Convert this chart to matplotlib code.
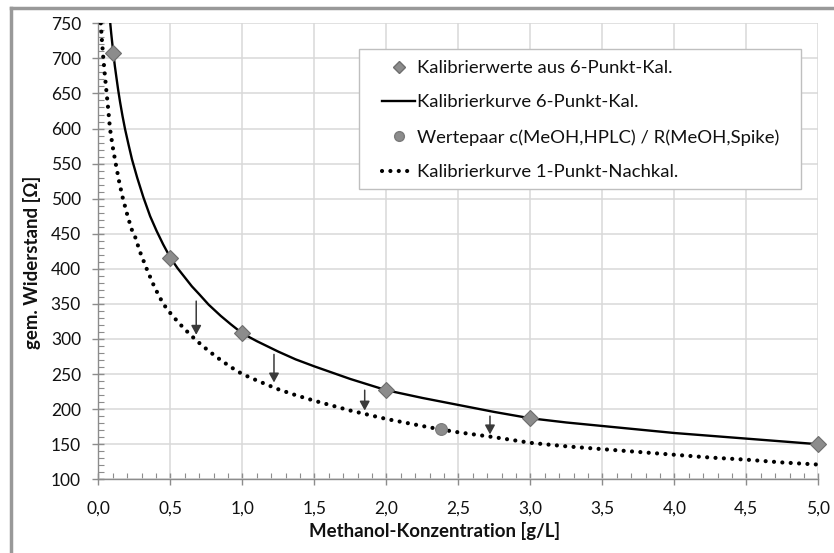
import matplotlib
matplotlib.use("Agg")
import matplotlib.pyplot as plt
from matplotlib.ticker import MultipleLocator, FuncFormatter
from matplotlib.lines import Line2D
from matplotlib.patches import Rectangle

plt.rcParams['font.family'] = ['Lato', 'DejaVu Sans']

# calibration points (6-point calibration)
cal_x = [0.1, 0.5, 1.0, 2.0, 3.0, 5.0]
cal_y = [708, 416, 308, 227, 187, 150]

# calibration curve 6-point
curve6_x = [0.083, 0.09, 0.104, 0.115, 0.125, 0.138, 0.151, 0.168, 0.186, 0.21, 0.234, 0.27,
            0.313, 0.36, 0.405, 0.45, 0.5, 0.55, 0.6, 0.65, 0.7, 0.766, 0.85, 0.92,
            1.0, 1.1, 1.25, 1.37, 1.5, 1.75, 2.0, 2.25, 2.5, 2.75, 3.0, 3.25,
            3.5, 3.75, 4.0, 4.25, 4.5, 4.75, 5.0]
curve6_y = [750, 735, 708, 689, 674, 655, 638, 618, 599, 577, 556, 530,
            502, 475, 454, 435, 416, 401, 388, 375, 364, 349, 333, 321,
            308, 297, 282, 271, 261, 243, 227, 216, 206, 196, 187, 181,
            176, 171, 166, 162, 158, 154, 150]

# value pair HPLC / spike
pair_x = [2.38]
pair_y = [171]

# calibration curve 1-point recalibration
curve1_x = [0.017, 0.025, 0.035, 0.046, 0.058, 0.07, 0.081, 0.1, 0.12, 0.146, 0.17, 0.2,
            0.23, 0.255, 0.29, 0.336, 0.39, 0.451, 0.5, 0.55, 0.6, 0.68, 0.766, 0.85,
            0.92, 1.0, 1.1, 1.24, 1.37, 1.5, 1.75, 2.0, 2.25, 2.38, 2.5, 2.75,
            3.0, 3.25, 3.5, 3.75, 4.0, 4.25, 4.5, 4.75, 5.0]
curve1_y = [750, 726, 700, 675, 650, 625, 600, 574, 551, 523, 501, 478,
            457, 446, 424, 400, 374, 350, 337, 325, 314, 298, 283, 270,
            260, 250, 241, 229, 220, 212, 198, 186, 176, 171, 167, 160,
            152, 147, 143, 139, 135, 131, 128, 124, 121]

# arrows (x, start, end)
arrow_x = [0.68, 1.22, 1.85, 2.72]
arrow_top = [354, 278, 227, 190]
arrow_tip = [306, 238, 198, 164]

fig = plt.figure(figsize=(8.34, 5.53), dpi=100)
ax = fig.add_axes([98.3/834, 1-479.3/553, 720/834, 456/553])

ax.set_xlim(0, 5)
ax.set_ylim(100, 750)

ax.xaxis.set_major_locator(MultipleLocator(0.5))
ax.xaxis.set_minor_locator(MultipleLocator(0.1))
ax.yaxis.set_major_locator(MultipleLocator(50))
ax.yaxis.set_minor_locator(MultipleLocator(10))
ax.xaxis.set_major_formatter(FuncFormatter(lambda v, p: f"{v:.1f}".replace('.', ',')))
ax.yaxis.set_major_formatter(FuncFormatter(lambda v, p: f"{int(round(v))}"))

ax.grid(True, which='major', color='#d9d9d9', linewidth=1.1, zorder=0)
ax.set_axisbelow(True)
for s in ['top', 'right']:
    ax.spines[s].set_visible(False)
for s in ['left', 'bottom']:
    ax.spines[s].set_color('#8c8c8c')
    ax.spines[s].set_linewidth(1.0)

ax.tick_params(which='major', direction='inout', length=8, width=1.0, color='#8c8c8c',
               labelsize=12.5, labelcolor='#111111')
ax.tick_params(axis='x', which='major', pad=11)
ax.tick_params(axis='y', which='major', pad=8.5)
ax.tick_params(which='minor', direction='in', length=4, width=0.8, color='#8c8c8c')

ax.plot(curve6_x, curve6_y, color='black', linewidth=1.7, zorder=3,
        solid_capstyle='round', solid_joinstyle='round')
ax.plot(curve1_x, curve1_y, color='black', linewidth=3.0,
        linestyle=(0, (0.01, 2.0)), dash_capstyle='round', zorder=3)
ax.plot(cal_x, cal_y, linestyle='none', marker='D', markersize=8,
        markerfacecolor='#8c8c8c', markeredgecolor='#6e6e6e', markeredgewidth=0.8,
        zorder=5, clip_on=False)
ax.plot(pair_x, pair_y, linestyle='none', marker='o', markersize=8.5,
        markerfacecolor='#8c8c8c', markeredgecolor='#7a7a7a', markeredgewidth=0.8,
        zorder=5)

for xa, yt, ye in zip(arrow_x, arrow_top, arrow_tip):
    ax.annotate('', xy=(xa, ye), xytext=(xa, yt),
                arrowprops=dict(arrowstyle='-|>,head_length=0.55,head_width=0.3',
                                color='#3a3a3a', linewidth=1.1, shrinkA=0, shrinkB=0),
                zorder=4)

ax.set_xlabel('Methanol-Konzentration [g/L]', fontsize=13.4, fontweight='bold', color='#111111')
ax.xaxis.set_label_coords(435/834, 1-531/553, transform=fig.transFigure)
ax.xaxis.label.set_verticalalignment('center')
ax.set_ylabel('gem. Widerstand [Ω]', fontsize=13.4, fontweight='bold', color='#111111')
ax.yaxis.set_label_coords(32/834, 1-262/553, transform=fig.transFigure)
ax.yaxis.label.set_verticalalignment('center')

# legend box
fig.add_artist(Rectangle((359/834, 1-189/553), (801-359)/834, (189-49)/553,
                         transform=fig.transFigure, facecolor='white', edgecolor='#bfbfbf',
                         linewidth=1.0, zorder=6))

h_cal = Line2D([], [], linestyle='none', marker='D', markersize=6,
               markerfacecolor='#8c8c8c', markeredgecolor='#6e6e6e')
h_pair = Line2D([], [], linestyle='none', marker='o', markersize=7,
                markerfacecolor='#8c8c8c', markeredgecolor='#7a7a7a')
h_c6 = Line2D([], [], color='black', linewidth=1.7)
h_c1 = Line2D([], [], color='black', linewidth=3.0, linestyle=(0, (0.01, 2.0)),
              dash_capstyle='round')
leg = fig.legend([h_cal, h_c6, h_pair, h_c1],
                 ['Kalibrierwerte aus 6-Punkt-Kal.', 'Kalibrierkurve 6-Punkt-Kal.',
                  'Wertepaar c(MeOH,HPLC) / R(MeOH,Spike)', 'Kalibrierkurve 1-Punkt-Nachkal.'],
                 loc='center left', bbox_to_anchor=(382/834, 1-120/553),
                 fontsize=13.3, frameon=False, handlelength=1.8, handletextpad=0.12,
                 labelspacing=1.0, borderpad=0, borderaxespad=0)
leg.set_zorder(7)
for t in leg.get_texts():
    t.set_color('#111111')

# chart-area border (top and left visible)
fig.add_artist(Line2D([10.5/834, 1], [1-8/553, 1-8/553], transform=fig.transFigure,
                      color='#999999', linewidth=2.5))
fig.add_artist(Line2D([10.5/834, 10.5/834], [0, 1-8/553], transform=fig.transFigure,
                      color='#999999', linewidth=2.5))

fig.savefig('out.png', dpi=100)
